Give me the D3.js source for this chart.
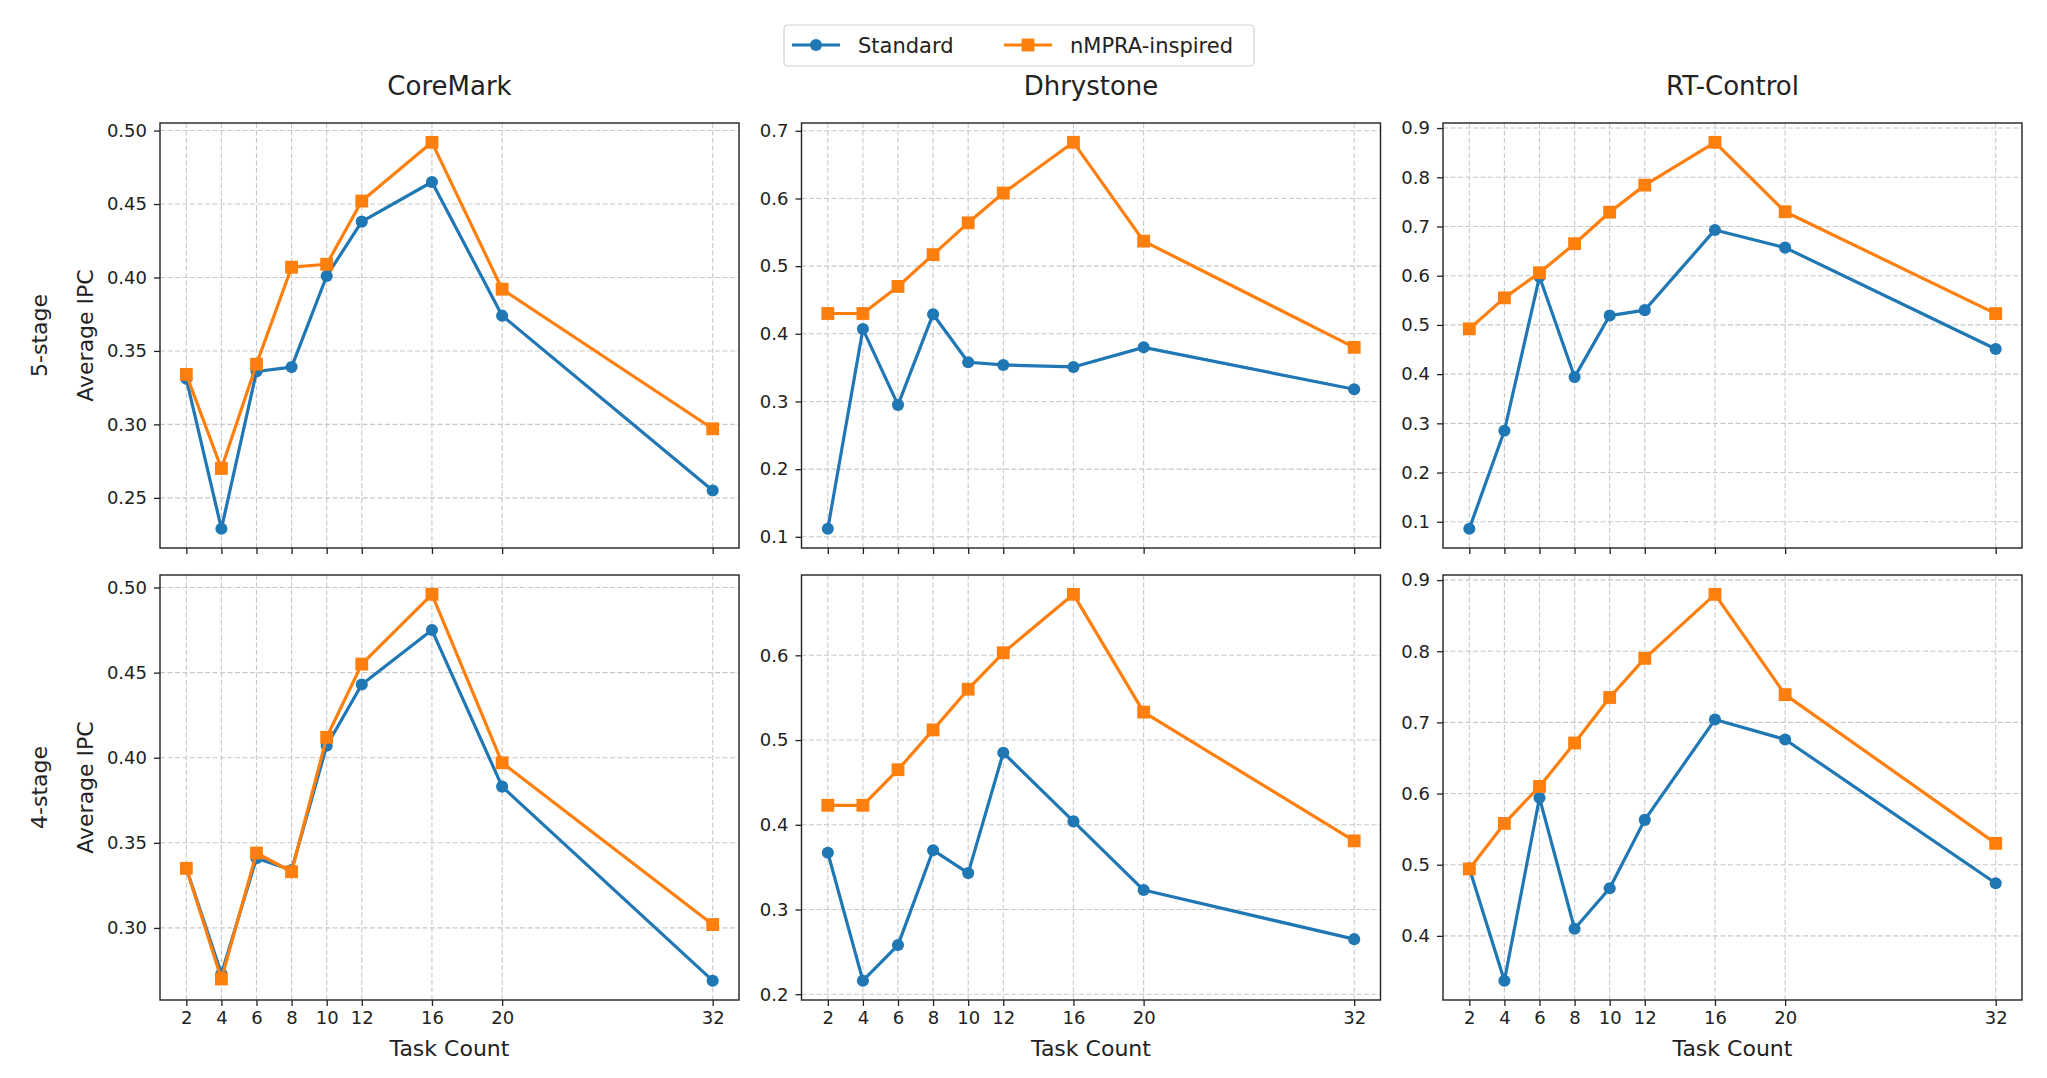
<!DOCTYPE html>
<html lang="en">
<head>
  <meta charset="UTF-8">
  <title>Average IPC vs Task Count</title>
  <style>
    *{box-sizing:border-box;margin:0;padding:0}
    body{background:#fff;font-family:'DejaVu Sans',sans-serif}
    .grid line{stroke:#c8c8c8;stroke-width:1.1;stroke-dasharray:5,2.5}
    .frame{fill:none;stroke:#222;stroke-width:1.4}
    .tick line{stroke:#222;stroke-width:1.3}
    .tick text{fill:#222;font-size:18px}
    .lbl{fill:#222;font-size:22px}
    .ttl{fill:#222;font-size:26px}
    .leg{fill:#222;font-size:21px}
  </style>
  <script src="https://d3js.org/d3.v7.min.js"></script>
</head>
<body>
  <svg id="chart" width="2047" height="1078"></svg>
  <script>
    /* ---------- DATA ---------- */
    const taskCounts = [2, 4, 6, 8, 10, 12, 16, 20, 32];
    const benchmarks = ["CoreMark", "Dhrystone", "RT-Control"];
    const stages = ["5-stage", "4-stage"];
    const seriesNames = ["Standard", "nMPRA-inspired"];

    // 5-stage
    const coremark5Standard  = [0.331, 0.229, 0.336, 0.339, 0.401, 0.438, 0.465, 0.374, 0.255];
    const coremark5Nmpra     = [0.334, 0.270, 0.341, 0.407, 0.409, 0.452, 0.492, 0.392, 0.297];
    const dhrystone5Standard = [0.112, 0.407, 0.295, 0.429, 0.358, 0.354, 0.351, 0.380, 0.318];
    const dhrystone5Nmpra    = [0.430, 0.430, 0.470, 0.517, 0.564, 0.608, 0.683, 0.537, 0.380];
    const rtControl5Standard = [0.086, 0.285, 0.598, 0.394, 0.519, 0.530, 0.693, 0.657, 0.451];
    const rtControl5Nmpra    = [0.492, 0.555, 0.606, 0.665, 0.729, 0.784, 0.871, 0.730, 0.523];
    // 4-stage
    const coremark4Standard  = [0.335, 0.273, 0.341, 0.334, 0.407, 0.443, 0.475, 0.383, 0.269];
    const coremark4Nmpra     = [0.335, 0.270, 0.344, 0.333, 0.412, 0.455, 0.496, 0.397, 0.302];
    const dhrystone4Standard = [0.367, 0.216, 0.258, 0.370, 0.343, 0.485, 0.404, 0.323, 0.265];
    const dhrystone4Nmpra    = [0.423, 0.423, 0.465, 0.512, 0.560, 0.603, 0.672, 0.533, 0.381];
    const rtControl4Standard = [0.495, 0.337, 0.594, 0.410, 0.467, 0.563, 0.704, 0.676, 0.474];
    const rtControl4Nmpra    = [0.494, 0.558, 0.610, 0.671, 0.735, 0.790, 0.880, 0.739, 0.530];

    // y tick labels per panel (row = stage, col = benchmark)
    const yTicks5 = [[0.25, 0.30, 0.35, 0.40, 0.45, 0.50], [0.1, 0.2, 0.3, 0.4, 0.5, 0.6, 0.7], [0.1, 0.2, 0.3, 0.4, 0.5, 0.6, 0.7, 0.8, 0.9]];
    const yTicks4 = [[0.30, 0.35, 0.40, 0.45, 0.50], [0.2, 0.3, 0.4, 0.5, 0.6], [0.4, 0.5, 0.6, 0.7, 0.8, 0.9]];
    const yFormats = [".2f", ".1f", ".1f"];

    const panels = [
      [[coremark5Standard, coremark5Nmpra], [dhrystone5Standard, dhrystone5Nmpra], [rtControl5Standard, rtControl5Nmpra]],
      [[coremark4Standard, coremark4Nmpra], [dhrystone4Standard, dhrystone4Nmpra], [rtControl4Standard, rtControl4Nmpra]]
    ];
    const yTicks = [yTicks5, yTicks4];

    /* ---------- LAYOUT ---------- */
    const colX = [160, 801.5, 1443], axW = 579;
    const rowY = [123, 575], axH = 425;
    const colors = ["#1f77b4", "#ff7f0e"];
    const markerSize = [115, 165];

    const svg = d3.select("#chart");

    function pad(ext) { const r = ext[1] - ext[0]; return [ext[0] - 0.05 * r, ext[1] + 0.05 * r]; }

    panels.forEach((row, ri) => {
      row.forEach((pair, ci) => {
        const g = svg.append("g").attr("transform", `translate(${colX[ci]},${rowY[ri]})`);
        const x = d3.scaleLinear().domain(pad(d3.extent(taskCounts))).range([0, axW]);
        const y = d3.scaleLinear().domain(pad(d3.extent(pair.flat()))).range([axH, 0]);
        const ticks = yTicks[ri][ci];

        // grid
        const grid = g.append("g").attr("class", "grid");
        grid.selectAll(".gx").data(taskCounts).join("line")
          .attr("x1", d => x(d)).attr("x2", d => x(d)).attr("y1", 0).attr("y2", axH);
        grid.selectAll(".gy").data(ticks).join("line").attr("class", "gy")
          .attr("x1", 0).attr("x2", axW).attr("y1", d => y(d)).attr("y2", d => y(d));

        // axes
        const xAxis = d3.axisBottom(x).tickValues(taskCounts).tickSize(6).tickPadding(5)
          .tickFormat(ri === 1 ? d3.format("d") : () => "");
        const xg = g.append("g").attr("transform", `translate(0,${axH})`).call(xAxis);
        const yAxis = d3.axisLeft(y).tickValues(ticks).tickSize(6).tickPadding(7).tickFormat(d3.format(yFormats[ci]));
        const yg = g.append("g").call(yAxis);
        [xg, yg].forEach(a => { a.select(".domain").remove(); a.attr("font-family", null).attr("font-size", null); });

        // series
        pair.forEach((vals, si) => {
          const pts = taskCounts.map((t, i) => [t, vals[i]]);
          g.append("path").datum(pts)
            .attr("fill", "none").attr("stroke", colors[si]).attr("stroke-width", 3.2)
            .attr("stroke-linejoin", "round")
            .attr("d", d3.line().x(d => x(d[0])).y(d => y(d[1])));
          const sym = d3.symbol().type(si === 0 ? d3.symbolCircle : d3.symbolSquare).size(markerSize[si]);
          g.append("g").selectAll("path").data(pts).join("path")
            .attr("transform", d => `translate(${x(d[0])},${y(d[1])})`)
            .attr("d", sym).attr("fill", colors[si]);
        });

        g.append("rect").attr("class", "frame").attr("width", axW).attr("height", axH);

        // titles & labels
        if (ri === 0) {
          g.append("text").attr("class", "ttl").attr("x", axW / 2).attr("y", -28)
            .attr("text-anchor", "middle").text(benchmarks[ci]);
        } else {
          g.append("text").attr("class", "lbl").attr("x", axW / 2).attr("y", axH + 56)
            .attr("text-anchor", "middle").text("Task Count");
        }
        if (ci === 0) {
          const cy = axH / 2;
          g.append("text").attr("class", "lbl").attr("text-anchor", "middle")
            .attr("transform", `translate(${39 - colX[0] + 8},${cy}) rotate(-90)`).text(stages[ri]);
          g.append("text").attr("class", "lbl").attr("text-anchor", "middle")
            .attr("transform", `translate(${85 - colX[0] + 8},${cy}) rotate(-90)`).text("Average IPC");
        }
      });
    });

    /* ---------- LEGEND ---------- */
    const leg = svg.append("g").attr("transform", "translate(784,25)");
    leg.append("rect").attr("width", 470).attr("height", 41).attr("rx", 4)
      .attr("fill", "#fff").attr("stroke", "#d0d0d0").attr("stroke-width", 1.2);
    const legX = [8, 220];
    seriesNames.forEach((name, si) => {
      const lg = leg.append("g").attr("transform", `translate(${legX[si]},20)`);
      lg.append("line").attr("x1", 0).attr("x2", 48).attr("stroke", colors[si]).attr("stroke-width", 3.2);
      lg.append("path").attr("transform", "translate(24,0)")
        .attr("d", d3.symbol().type(si === 0 ? d3.symbolCircle : d3.symbolSquare).size(markerSize[si])())
        .attr("fill", colors[si]);
      lg.append("text").attr("class", "leg").attr("x", 66).attr("y", 7.5).text(name);
    });
  </script>
</body>
</html>
